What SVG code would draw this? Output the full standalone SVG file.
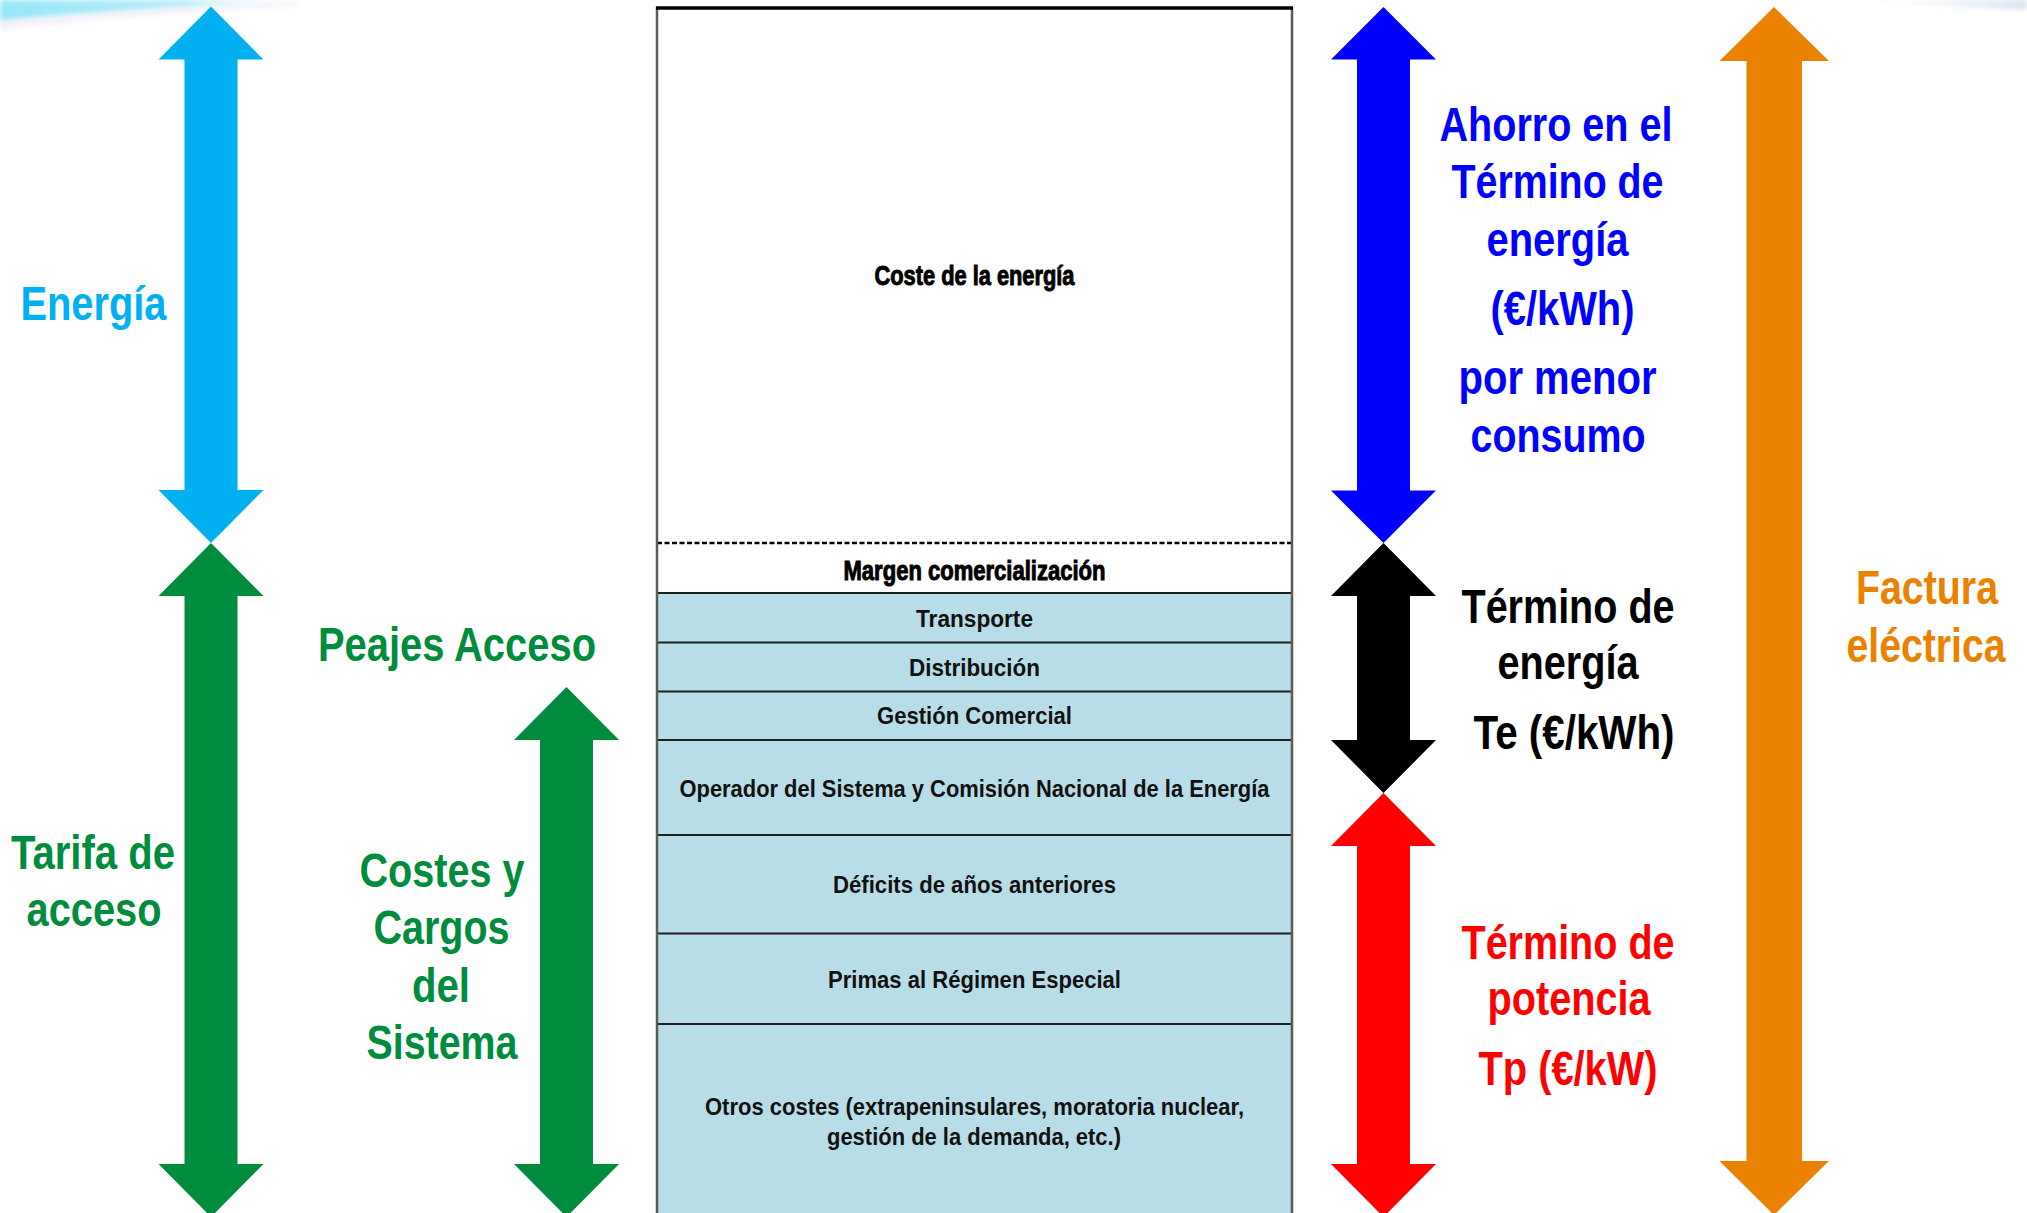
<svg xmlns="http://www.w3.org/2000/svg" width="2027" height="1213" viewBox="0 0 2027 1213">
  <defs>
    <linearGradient id="swooshL" x1="0" y1="0" x2="1" y2="0">
      <stop offset="0" stop-color="#96E6F8"/>
      <stop offset="0.55" stop-color="#B6EDF9"/>
      <stop offset="1" stop-color="#FFFFFF" stop-opacity="0"/>
    </linearGradient>
    <linearGradient id="swooshR" x1="0" y1="0" x2="1" y2="0">
      <stop offset="0" stop-color="#FFFFFF" stop-opacity="0"/>
      <stop offset="1" stop-color="#D8E5F0"/>
    </linearGradient>
    <filter id="soft" x="-10%" y="-50%" width="120%" height="200%">
      <feGaussianBlur stdDeviation="2.5"/>
    </filter>
    <style>
      .lbl { font-family: "Liberation Sans", Arial, sans-serif; font-weight: bold; font-size: 48px; text-anchor: middle; }
      .cell { font-family: "Liberation Sans", Arial, sans-serif; font-weight: bold; font-size: 24px; text-anchor: middle; fill: #111; }
      .heavy { font-family: "Liberation Sans", Arial, sans-serif; font-weight: bold; font-size: 28px; text-anchor: middle; fill: #000; stroke: #000; stroke-width: 1; }
      .row { fill: #B7DDE8; }
      .rule { stroke: #1E1E1E; stroke-width: 2; }
      .side { stroke: #5A5A5A; stroke-width: 2.5; }
    </style>
  </defs>

  <rect x="0" y="0" width="2027" height="1213" fill="#FFFFFF"/>

  <!-- decorative header swooshes -->
  <g id="header-swoosh">
    <path d="M0,0 L340,0 C250,3 120,10 0,21 Z" fill="url(#swooshL)" filter="url(#soft)"/>
    <path d="M0,21 C120,11 220,6 300,2 L300,6 C200,11 100,18 0,30 Z" fill="#ECE8F6" opacity="0.6" filter="url(#soft)"/>
    <path d="M1810,0 L2027,0 L2027,10 C1960,7 1890,4 1810,3 Z" fill="url(#swooshR)" filter="url(#soft)"/>
  </g>

  <!-- stacked cost column -->
  <g id="cost-column">
    <rect x="657" y="593" width="635" height="620" class="row"/>

    <g id="coste-energia">
      <text class="heavy" x="974.5" y="285" textLength="200" lengthAdjust="spacingAndGlyphs">Coste de la energía</text>
    </g>
    <g id="margen">
      <text class="heavy" x="974.5" y="580" textLength="262" lengthAdjust="spacingAndGlyphs">Margen comercialización</text>
    </g>
    <g id="transporte">
      <text class="cell" x="974.5" y="627" textLength="117" lengthAdjust="spacingAndGlyphs">Transporte</text>
    </g>
    <g id="distribucion">
      <text class="cell" x="974.5" y="676" textLength="131" lengthAdjust="spacingAndGlyphs">Distribución</text>
    </g>
    <g id="gestion">
      <text class="cell" x="974.5" y="724" textLength="195" lengthAdjust="spacingAndGlyphs">Gestión Comercial</text>
    </g>
    <g id="operador">
      <text class="cell" x="974.5" y="797" textLength="590" lengthAdjust="spacingAndGlyphs">Operador del Sistema y Comisión Nacional de la Energía</text>
    </g>
    <g id="deficits">
      <text class="cell" x="974.5" y="893" textLength="283" lengthAdjust="spacingAndGlyphs">Déficits de años anteriores</text>
    </g>
    <g id="primas">
      <text class="cell" x="974.5" y="988" textLength="293" lengthAdjust="spacingAndGlyphs">Primas al Régimen Especial</text>
    </g>
    <g id="otros">
      <text class="cell" x="974.5" y="1115" textLength="539" lengthAdjust="spacingAndGlyphs">Otros costes (extrapeninsulares, moratoria nuclear,</text>
      <text class="cell" x="974" y="1145" textLength="294" lengthAdjust="spacingAndGlyphs">gestión de la demanda, etc.)</text>
    </g>

    <!-- row separators -->
    <line x1="657" y1="543" x2="1292" y2="543" stroke="#000" stroke-width="2.5" stroke-dasharray="5,2.5"/>
    <line class="rule" x1="657" y1="593" x2="1292" y2="593"/>
    <line class="rule" x1="657" y1="642.5" x2="1292" y2="642.5"/>
    <line class="rule" x1="657" y1="691.5" x2="1292" y2="691.5"/>
    <line class="rule" x1="657" y1="740" x2="1292" y2="740"/>
    <line class="rule" x1="657" y1="835" x2="1292" y2="835"/>
    <line class="rule" x1="657" y1="933.5" x2="1292" y2="933.5"/>
    <line class="rule" x1="657" y1="1024" x2="1292" y2="1024"/>

    <!-- frame -->
    <line class="side" x1="657" y1="7" x2="657" y2="1213"/>
    <line class="side" x1="1292" y1="7" x2="1292" y2="1213"/>
    <line x1="656" y1="8" x2="1293" y2="8" stroke="#000" stroke-width="3.5"/>
  </g>

  <!-- span arrows -->
  <g id="connectors">
    <polygon id="arrow-energia" fill="#00B0F0" points="211,6.5 263.5,59.5 237.5,59.5 237.5,490 263.5,490 211,543 158.5,490 184.5,490 184.5,59.5 158.5,59.5"/>
    <polygon id="arrow-tarifa" fill="#008C3E" points="211,543 263.5,596 237.5,596 237.5,1164 263.5,1164 211,1217 158.5,1164 184.5,1164 184.5,596 158.5,596"/>
    <polygon id="arrow-costes" fill="#008C3E" points="566.5,687 619,740 593,740 593,1164 619,1164 566.5,1217 514,1164 540,1164 540,740 514,740"/>
    <polygon id="arrow-ahorro" fill="#0000FF" points="1383.5,7 1436,59.5 1410,59.5 1410,490.5 1436,490.5 1383.5,543 1331,490.5 1357,490.5 1357,59.5 1331,59.5"/>
    <polygon id="arrow-te" fill="#000000" points="1383.5,543 1436,596 1410,596 1410,740 1436,740 1383.5,793 1331,740 1357,740 1357,596 1331,596"/>
    <polygon id="arrow-tp" fill="#FF0000" points="1383.5,793 1436,846 1410,846 1410,1164 1436,1164 1383.5,1217 1331,1164 1357,1164 1357,846 1331,846"/>
    <polygon id="arrow-factura" fill="#EA8200" points="1774,7 1829,61 1802,61 1802,1161 1829,1161 1774,1215 1719.5,1161 1746.5,1161 1746.5,61 1719.5,61"/>
  </g>

  <!-- labels -->
  <g id="label-energia" fill="#00B0F0">
    <text class="lbl" x="93.5" y="320" textLength="146" lengthAdjust="spacingAndGlyphs">Energía</text>
  </g>
  <g id="label-tarifa" fill="#008C3E">
    <text class="lbl" x="93" y="869" textLength="164" lengthAdjust="spacingAndGlyphs">Tarifa de</text>
    <text class="lbl" x="94" y="926" textLength="135" lengthAdjust="spacingAndGlyphs">acceso</text>
  </g>
  <g id="label-peajes" fill="#008C3E">
    <text class="lbl" x="457" y="660.5" textLength="278" lengthAdjust="spacingAndGlyphs">Peajes Acceso</text>
  </g>
  <g id="label-costes" fill="#008C3E">
    <text class="lbl" x="442" y="887" textLength="165" lengthAdjust="spacingAndGlyphs">Costes y</text>
    <text class="lbl" x="441.5" y="944" textLength="136" lengthAdjust="spacingAndGlyphs">Cargos</text>
    <text class="lbl" x="441" y="1001.5" textLength="58" lengthAdjust="spacingAndGlyphs">del</text>
    <text class="lbl" x="442" y="1059" textLength="151" lengthAdjust="spacingAndGlyphs">Sistema</text>
  </g>
  <g id="label-ahorro" fill="#0000FF">
    <text class="lbl" x="1556" y="141" textLength="233" lengthAdjust="spacingAndGlyphs">Ahorro en el</text>
    <text class="lbl" x="1557.5" y="198" textLength="212" lengthAdjust="spacingAndGlyphs">Término de</text>
    <text class="lbl" x="1557.5" y="256" textLength="142" lengthAdjust="spacingAndGlyphs">energía</text>
    <text class="lbl" x="1562.5" y="325" textLength="144" lengthAdjust="spacingAndGlyphs">(€/kWh)</text>
    <text class="lbl" x="1557.5" y="394" textLength="198" lengthAdjust="spacingAndGlyphs">por menor</text>
    <text class="lbl" x="1558" y="452" textLength="175" lengthAdjust="spacingAndGlyphs">consumo</text>
  </g>
  <g id="label-te" fill="#000000">
    <text class="lbl" x="1568" y="623" textLength="213" lengthAdjust="spacingAndGlyphs">Término de</text>
    <text class="lbl" x="1568" y="679" textLength="141" lengthAdjust="spacingAndGlyphs">energía</text>
    <text class="lbl" x="1574" y="749" textLength="201" lengthAdjust="spacingAndGlyphs">Te (€/kWh)</text>
  </g>
  <g id="label-tp" fill="#FF0000">
    <text class="lbl" x="1568" y="959" textLength="213" lengthAdjust="spacingAndGlyphs">Término de</text>
    <text class="lbl" x="1569" y="1015" textLength="163" lengthAdjust="spacingAndGlyphs">potencia</text>
    <text class="lbl" x="1568" y="1085" textLength="179" lengthAdjust="spacingAndGlyphs">Tp (€/kW)</text>
  </g>
  <g id="label-factura" fill="#EA8200">
    <text class="lbl" x="1927" y="604" textLength="142" lengthAdjust="spacingAndGlyphs">Factura</text>
    <text class="lbl" x="1926" y="662" textLength="159" lengthAdjust="spacingAndGlyphs">eléctrica</text>
  </g>
</svg>
